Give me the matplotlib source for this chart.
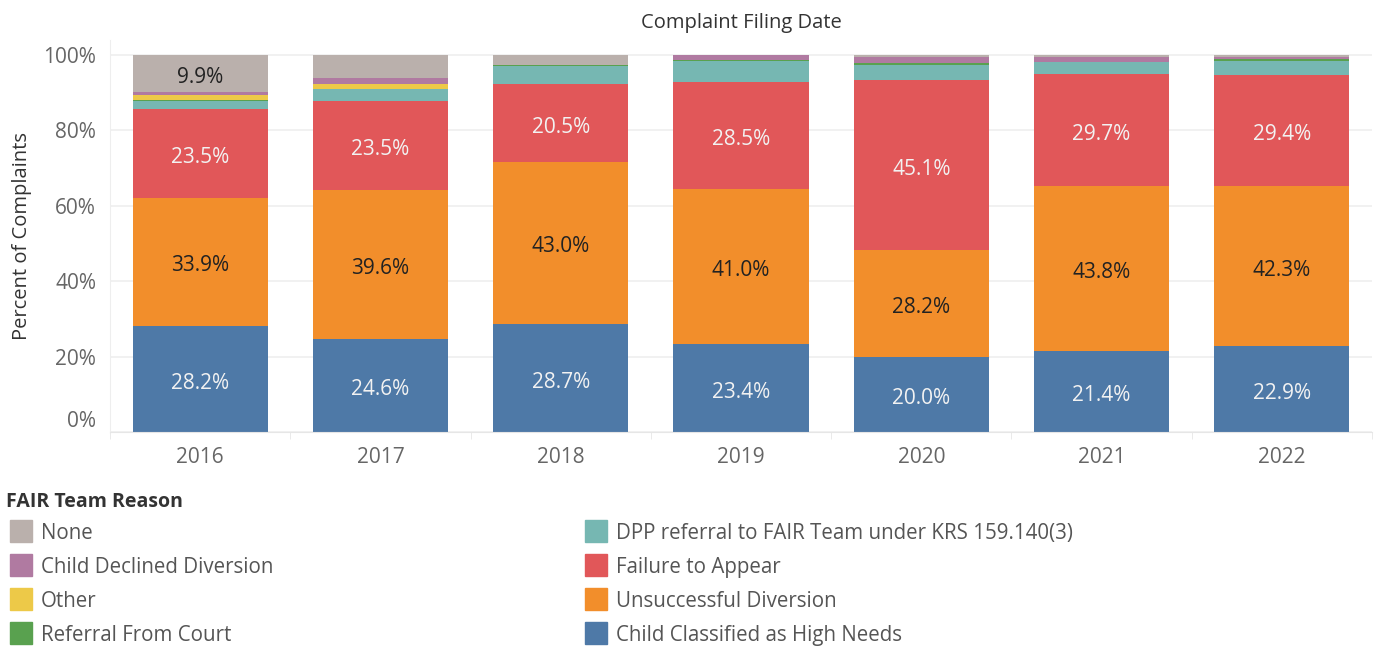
import numpy as np
import matplotlib
matplotlib.use("Agg")
import matplotlib.pyplot as plt
import matplotlib.transforms as mtrans
from matplotlib.patches import Rectangle

plt.rcParams['font.family'] = ['Open Sans', 'DejaVu Sans']

years = ["2016", "2017", "2018", "2019", "2020", "2021", "2022"]

# stacking order, bottom to top
high_needs   = [28.2, 24.6, 28.7, 23.4, 20.0, 21.4, 22.9]
unsuccessful = [33.9, 39.6, 43.0, 41.0, 28.2, 43.8, 42.3]
fail_appear  = [23.5, 23.5, 20.5, 28.5, 45.1, 29.7, 29.4]
dpp_referral = [2.3, 3.3, 4.9, 5.4, 4.0, 3.2, 3.9]
court_ref    = [0.2, 0.1, 0.3, 0.3, 0.5, 0.0, 0.4]
other        = [1.2, 1.3, 0.0, 0.0, 0.0, 0.0, 0.0]
declined     = [0.8, 1.5, 0.0, 1.4, 1.6, 1.4, 0.6]
none_reason  = [9.9, 6.1, 2.6, 0.0, 0.6, 0.5, 0.5]

names = ["Child Classified as High Needs", "Unsuccessful Diversion", "Failure to Appear",
         "DPP referral to FAIR Team under KRS 159.140(3)", "Referral From Court",
         "Other", "Child Declined Diversion", "None"]
series = [high_needs, unsuccessful, fail_appear, dpp_referral, court_ref, other, declined, none_reason]
colors = ["#4e79a7", "#f28e2b", "#e15759", "#76b7b2", "#59a14f", "#edc948", "#b07aa1", "#bab0ac"]
label_color = {0: "#f2f2f2", 1: "#222222", 2: "#f2f2f2", 7: "#222222"}

fig = plt.figure(figsize=(13.74, 6.66), dpi=100)
ax = fig.add_axes([110/1374, 1-432/666, 1262/1374, (432-40)/666])

x = np.arange(len(years))
bottom = np.zeros(len(years))
for i, (vals, c) in enumerate(zip(series, colors)):
    vals = np.array(vals)
    ax.bar(x, vals, 0.75, bottom=bottom, color=c, linewidth=0, zorder=2)
    if i in label_color:
        for xi, v, b in zip(x, vals, bottom):
            if v >= 8:
                ax.annotate(f"{v:.1f}%", (xi, b + v/2), xytext=(0, -3), textcoords='offset points',
                            ha='center', va='center', fontsize=15, color=label_color[i], zorder=3)
    bottom += vals

ax.set_xlim(-0.5, 6.5)
ax.set_ylim(0, 100*392/377)
yt = [0, 20, 40, 60, 80, 100]
ax.set_yticks(yt)
ax.set_yticklabels([f"{t}%" for t in yt], fontsize=15, color="#666666")
ax.get_yticklabels()[0].set_va('bottom')
shift = mtrans.ScaledTranslation(0, -2/72, fig.dpi_scale_trans)
for lab in ax.get_yticklabels():
    lab.set_transform(lab.get_transform() + shift)
ax.tick_params(axis='y', length=0, pad=10)
ax.set_xticks(x)
ax.set_xticklabels(years, fontsize=15, color="#666666")
ax.set_xticks(np.arange(-0.5, 7, 1), minor=True)
ax.tick_params(axis='x', which='major', length=0, pad=11)
ax.tick_params(axis='x', which='minor', length=5, color="#e6e6e6")
ax.grid(axis='y', color="#efefef", linewidth=1.2, zorder=0)
for s in ['top', 'right']:
    ax.spines[s].set_visible(False)
ax.spines['left'].set_color("#eeeeee")
ax.spines['bottom'].set_color("#e6e6e6")
ax.set_ylabel("Percent of Complaints", fontsize=14.5, color="#333333", labelpad=8)
ax.set_title("Complaint Filing Date", fontsize=14.5, color="#333333", pad=9)

# legend
fig.text(6/1374, 1-502/666, "FAIR Team Reason", fontsize=14, fontweight='bold',
         color="#333333", va='center')
order = [7, 6, 5, 4, 3, 2, 1, 0]
for k, idx in enumerate(order):
    col, row = divmod(k, 4)
    x0 = 10 if col == 0 else 585
    yc = 531 + row*34
    fig.add_artist(Rectangle((x0/1374, 1-(yc+11)/666), 22/1374, 22/666,
                             transform=fig.transFigure, color=colors[idx]))
    fig.text((x0+31)/1374, 1-(yc+2.5)/666, names[idx], fontsize=14.8, color="#555555", va='center')

fig.savefig("out.png", dpi=100)
